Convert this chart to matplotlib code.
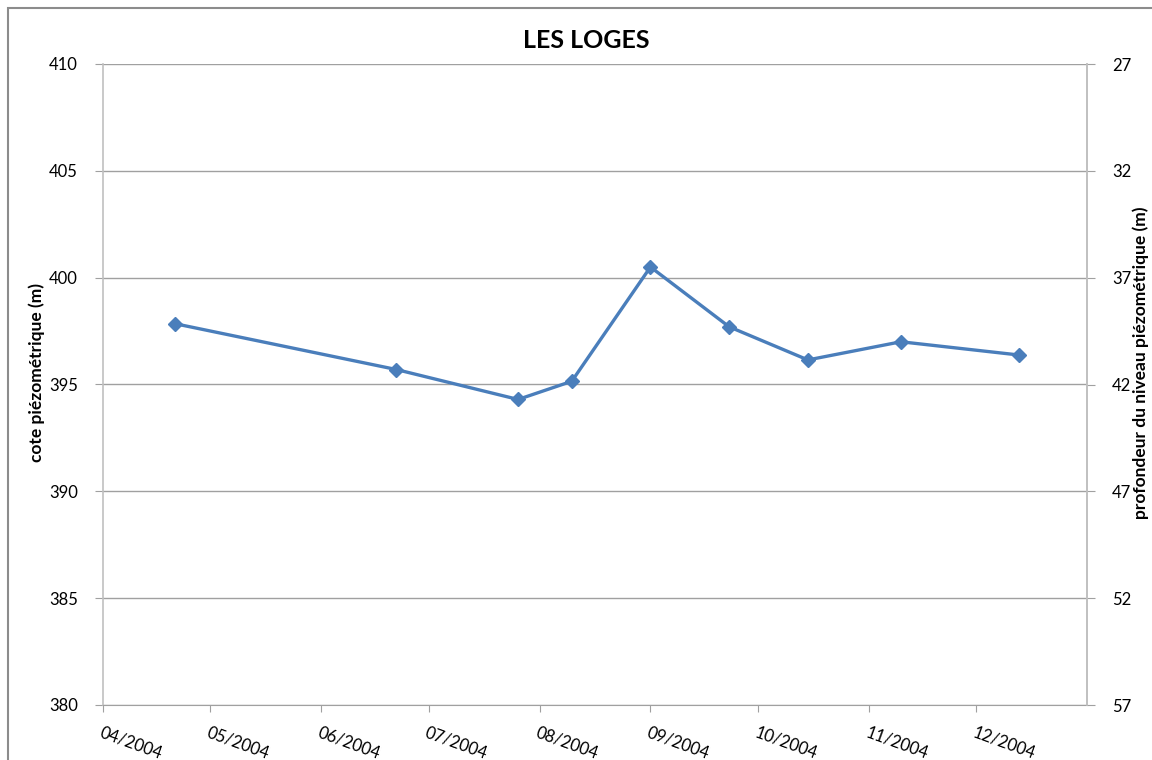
import matplotlib
matplotlib.use("Agg")
import matplotlib.pyplot as plt
from matplotlib.patches import Rectangle
import datetime as dt

plt.rcParams['font.family'] = ['Lato', 'DejaVu Sans']

title = "LES LOGES"
dates = ["2004-04-21", "2004-06-22", "2004-07-26", "2004-08-10", "2004-09-01",
         "2004-09-23", "2004-10-15", "2004-11-10", "2004-12-13"]
cote = [397.85, 395.7, 394.3, 395.15, 400.5, 397.7, 396.15, 397.0, 396.38]
ground = 437.0
left_ticks = [380, 385, 390, 395, 400, 405, 410]
right_ticks = [27, 32, 37, 42, 47, 52, 57]
month_ticks = ["2004-04-01", "2004-05-01", "2004-06-01", "2004-07-01", "2004-08-01",
               "2004-09-01", "2004-10-01", "2004-11-01", "2004-12-01"]

W, H = 1152, 760
fig = plt.figure(figsize=(W/100, H/100), dpi=100)
fig.patch.set_facecolor('white')
fig.patches.append(Rectangle((8/W, -0.1), 1.2, 1 - 8/H + 0.1, transform=fig.transFigure,
                             fill=False, edgecolor='#8c8c8c', linewidth=1.5))

x0, x1 = 103/W, 1087/W
y0, y1 = 1 - 705/H, 1 - 64/H
ax = fig.add_axes([x0, y0, x1 - x0, y1 - y0])

d = [dt.datetime.strptime(s, "%Y-%m-%d") for s in dates]
mt = [dt.datetime.strptime(s, "%Y-%m-%d") for s in month_ticks]

ax.plot(d, cote, color='#4a7ebb', linewidth=2.4, marker='D', markersize=7,
        markeredgecolor='#4a7ebb', markerfacecolor='#4a7ebb', zorder=3)

ax.set_xlim(dt.datetime(2004, 4, 1), dt.datetime(2005, 1, 1))
ax.set_ylim(380, 410)
ax.set_yticks(left_ticks)
ax.set_yticklabels([str(v) for v in left_ticks])
ax.yaxis.grid(True, color='#a0a0a0', linewidth=1)
ax.set_axisbelow(True)

ax.set_xticks(mt)
ax.set_xticklabels([m.strftime("%m/%Y") for m in mt], rotation=-20, ha='left',
                   va='top', rotation_mode='anchor', fontsize=12)
ax.tick_params(axis='x', length=5, color='#a0a0a0', pad=9)
ax.tick_params(axis='y', length=6, color='#a0a0a0', pad=12, labelsize=12)

ax.spines['top'].set_visible(False)
for s in ['left', 'right']:
    ax.spines[s].set_color('#c0c0c0')
    ax.spines[s].set_linewidth(1.2)
ax.spines['bottom'].set_color('#a0a0a0')

ax2 = ax.twinx()
ax2.set_ylim(ground - 380, ground - 410)
ax2.set_yticks(right_ticks)
ax2.set_yticklabels([str(v) for v in right_ticks])
ax2.tick_params(axis='y', length=6, color='#a0a0a0', pad=12, labelsize=12)
for s in ['top', 'left', 'bottom']:
    ax2.spines[s].set_visible(False)
ax2.spines['right'].set_color('#c0c0c0')
ax2.spines['right'].set_linewidth(1.2)

fig.text(37/W, 1 - 373/H, "cote piézométrique (m)", rotation=90, ha='center', va='center',
         fontsize=12.5, fontweight='bold')
fig.text(1141/W, 1 - 363/H, "profondeur du niveau piézométrique (m)", rotation=90,
         ha='center', va='center', fontsize=12.5, fontweight='bold')

fig.text(586/W, 1 - 40/H, title, ha='center', va='center', fontsize=18,
         fontweight='bold')

fig.savefig("out.png", dpi=100)
